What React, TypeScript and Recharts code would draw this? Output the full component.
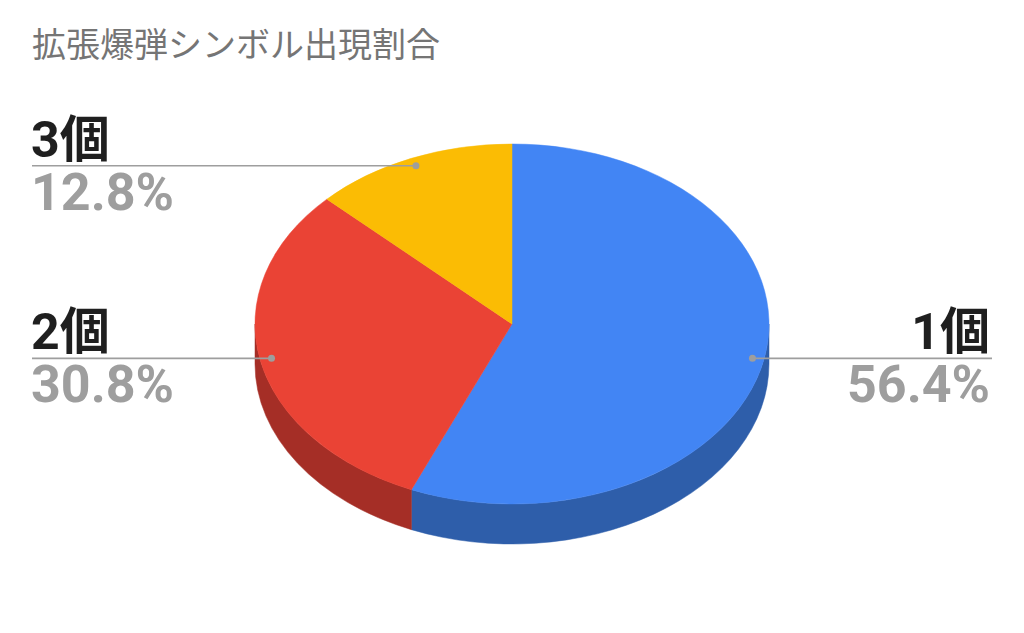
import React from 'react';
import { PieChart, Pie, Cell } from 'recharts';

const title = '拡張爆弾シンボル出現割合';
const categories = ['1個', '2個', '3個'];
const shares = [56.4, 30.8, 12.8];
const topColors = ['#4285F4', '#EA4335', '#FBBC04'];
const sideColors = ['#2E5EAA', '#A52E26', '#B08503'];

const data = categories.map((name, i) => ({ name, value: shares[i] }));

const W = 1024;
const H = 633;
const ASPECT = 257 / 180;
const DEPTH = 40;
const RAD = Math.PI / 180;
const FONT = "Roboto, 'Noto Sans CJK JP', sans-serif";

const pt = (cx: number, cy: number, rx: number, ry: number, a: number, dy = 0) =>
  `${cx + rx * Math.cos(a * RAD)},${cy - ry * Math.sin(a * RAD) + dy}`;

const EllipseSector = (props: any) => {
  const { cx, cy, outerRadius, startAngle, endAngle, index } = props;
  const ry = outerRadius;
  const rx = outerRadius * ASPECT;
  const hi = Math.max(startAngle, endAngle);
  const lo = Math.min(startAngle, endAngle);
  const large = hi - lo > 180 ? 1 : 0;
  const top = `M${cx},${cy} L${pt(cx, cy, rx, ry, hi)} A${rx},${ry} 0 ${large} 1 ${pt(cx, cy, rx, ry, lo)} Z`;
  const sides: string[] = [];
  for (let k = -2; k <= 1; k++) {
    const b0 = -180 + 360 * k;
    const b1 = 360 * k;
    const s = Math.max(lo, b0);
    const e = Math.min(hi, b1);
    if (e - s > 0.01) {
      sides.push(
        `M${pt(cx, cy, rx, ry, e)} A${rx},${ry} 0 0 1 ${pt(cx, cy, rx, ry, s)} L${pt(cx, cy, rx, ry, s, DEPTH)} A${rx},${ry} 0 0 0 ${pt(cx, cy, rx, ry, e, DEPTH)} Z`
      );
    }
  }
  const i = index ?? 0;
  return (
    <g>
      {sides.map((d, j) => (
        <path key={j} d={d} fill={sideColors[i]} stroke={sideColors[i]} strokeWidth={0.5} />
      ))}
      <path d={top} fill={topColors[i]} stroke={topColors[i]} strokeWidth={0.5} />
    </g>
  );
};

const renderLabel = (props: any) => {
  const { cx, cy, midAngle, outerRadius, percent, index } = props;
  const ry = outerRadius;
  const rx = outerRadius * ASPECT;
  const f = 0.955;
  const dx = cx + rx * f * Math.cos(midAngle * RAD);
  const dy = cy - ry * f * Math.sin(midAngle * RAD);
  const right = dx > cx;
  const lineEnd = right ? 992 : 32;
  const tx = right ? 990 : 31;
  const anchor = right ? 'end' : 'start';
  return (
    <g key={`lbl-${index}`}>
      <line x1={dx} y1={dy} x2={lineEnd} y2={dy} stroke="#9e9e9e" strokeWidth={1.6} />
      <circle cx={dx} cy={dy} r={3.5} fill="#9e9e9e" />
      <text x={tx} y={dy - 9} textAnchor={anchor} fontFamily={FONT} fontWeight="bold" fontSize={50} fill="#1f1f1f">
        {categories[index]}
      </text>
      <text x={tx} y={dy + 44} textAnchor={anchor} fontFamily={FONT} fontWeight="bold" fontSize={52} fill="#9e9e9e">
        {`${(percent * 100).toFixed(1)}%`}
      </text>
    </g>
  );
};

export default function App() {
  return (
    <div style={{ position: 'absolute', left: 0, top: 0, width: W, height: H, background: '#fff' }}>
      <PieChart width={W} height={H} margin={{ top: 0, right: 0, bottom: 0, left: 0 }}>
        <Pie
          data={data}
          dataKey="value"
          nameKey="name"
          cx={512}
          cy={324}
          outerRadius={180}
          startAngle={90}
          endAngle={-270}
          isAnimationActive={false}
          shape={EllipseSector}
          activeShape={EllipseSector}
          inactiveShape={EllipseSector}
          label={renderLabel}
          labelLine={false}
          stroke="none"
        >
          {data.map((d, i) => (
            <Cell key={d.name} fill={topColors[i]} />
          ))}
        </Pie>
      </PieChart>
      <svg width={W} height={80} style={{ position: 'absolute', left: 0, top: 0 }}>
        <text x={32} y={57} fontFamily={FONT} fontSize={34} fill="#757575">
          {title}
        </text>
      </svg>
    </div>
  );
}
